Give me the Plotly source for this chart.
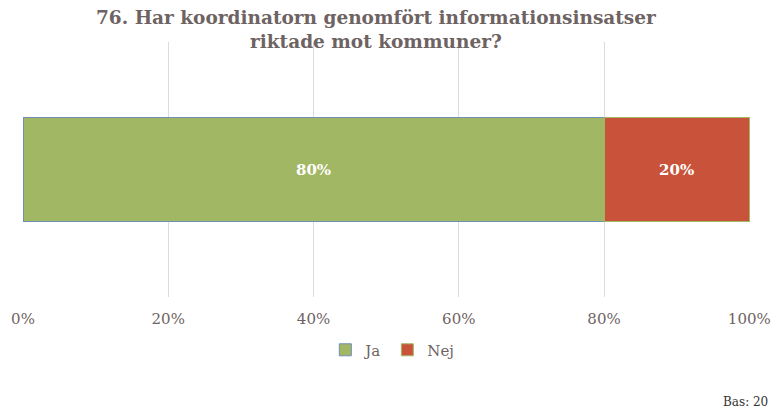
import plotly.graph_objects as go

categories = ["Q76"]
series_names = ["Ja", "Nej"]
values_ja = [0.80]
values_nej = [0.20]
label_ja = ["80%"]
label_nej = ["20%"]
tick_vals = [0, 0.2, 0.4, 0.6, 0.8, 1.0]
tick_text = ["0%", "20%", "40%", "60%", "80%", "100%"]
title_text = "<b>76. Har koordinatorn genomfört informationsinsatser<br>riktade mot kommuner?</b>"
base_text = "Bas: 20"

FONT = "Georgia, 'DejaVu Serif', serif"
TXT = "#6E6363"

fig = go.Figure()
fig.add_trace(go.Bar(
    y=categories, x=values_ja, name=series_names[0], orientation="h",
    marker=dict(color="#A2B764", line=dict(color="#6F8FB5", width=1)),
    text=label_ja, textposition="inside", insidetextanchor="middle",
    textfont=dict(color="white", size=15, family=FONT, weight="bold"),
))
fig.add_trace(go.Bar(
    y=categories, x=values_nej, name=series_names[1], orientation="h",
    marker=dict(color="#C8533A", line=dict(color="#A2B764", width=1)),
    text=label_nej, textposition="inside", insidetextanchor="middle",
    textfont=dict(color="white", size=15, family=FONT, weight="bold"),
))

fig.update_layout(
    width=771, height=414, autosize=False,
    barmode="stack", bargap=0.596,
    plot_bgcolor="white", paper_bgcolor="white",
    margin=dict(l=23, r=21, t=42, b=117, autoexpand=False),
    font=dict(family=FONT, color=TXT),
    xaxis=dict(
        range=[0, 1.001], tickvals=tick_vals, ticktext=tick_text,
        showgrid=True, gridcolor="#DCDCDC", gridwidth=1,
        zeroline=False, showline=False, automargin=False,
        ticklabeloverflow="allow",
        tickfont=dict(size=15, color=TXT, family=FONT),
        ticklabelstandoff=11,
    ),
    yaxis=dict(showticklabels=False, showgrid=False, zeroline=False, automargin=False),
    legend=dict(
        orientation="h", x=0.508, xanchor="center", y=-0.208, yanchor="middle",
        font=dict(size=15, color=TXT, family=FONT),
        itemwidth=30, traceorder="normal",
    ),
    showlegend=True,
)
fig.add_annotation(
    text=title_text, xref="paper", yref="paper", x=0.4856, y=1 + 37 / 255,
    xanchor="center", yanchor="top", showarrow=False, align="center",
    font=dict(size=18.5, color=TXT, family=FONT),
)
fig.add_annotation(
    text=base_text, xref="paper", yref="paper", x=1.0275, y=-0.412,
    xanchor="right", yanchor="middle", showarrow=False,
    font=dict(size=12, color="#333333", family=FONT),
)

fig.write_html(
    "out.html",
    config={"displayModeBar": False, "responsive": False},
    post_script="document.body.style.margin='0';",
)
